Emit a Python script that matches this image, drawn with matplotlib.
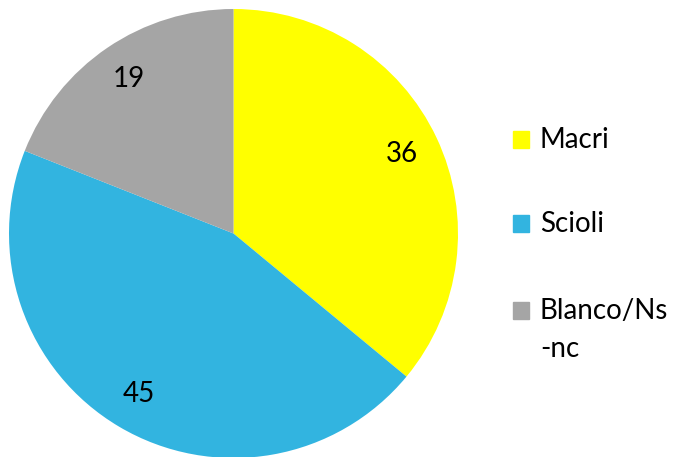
import matplotlib.pyplot as plt
from matplotlib.patches import Rectangle

labels = ['Macri', 'Scioli', 'Blanco/Ns\n-nc']
values = [36, 45, 19]
colors = ['#FFFF00', '#32B4E0', '#A5A5A5']

plt.rcParams['font.family'] = ['Lato', 'DejaVu Sans']

W, H = 677, 457
fig = plt.figure(figsize=(W / 100, H / 100), dpi=100)

# pie axes: center ~ (233.5, 233.5) px, radius ~224.5 px
r = 224.5
cx, cy = 233.5, 233.5
ax = fig.add_axes([(cx - r) / W, (H - cy - r) / H, 2 * r / W, 2 * r / H])
ax.pie(values, colors=colors, startangle=90, counterclock=False,
       autopct=lambda p: '%d' % round(p), pctdistance=0.83,
       textprops={'fontsize': 20, 'color': 'black'},
       wedgeprops={'linewidth': 0})
ax.set_xlim(-1, 1)
ax.set_ylim(-1, 1)
ax.set_aspect('equal')
ax.axis('off')

# legend drawn by hand so the square lines up with the first text line
tops = [131, 215, 302]
for lab, col, top in zip(labels, colors, tops):
    base = top + 17
    fig.patches.append(Rectangle((513 / W, (H - base) / H), 16 / W, 17 / H,
                                 transform=fig.transFigure, color=col))
    for i, line in enumerate(lab.split('\n')):
        fig.text(540 / W, (H - base - i * 38) / H, line, fontsize=20,
                 va='baseline', ha='left')

fig.savefig('out.png', dpi=100)
